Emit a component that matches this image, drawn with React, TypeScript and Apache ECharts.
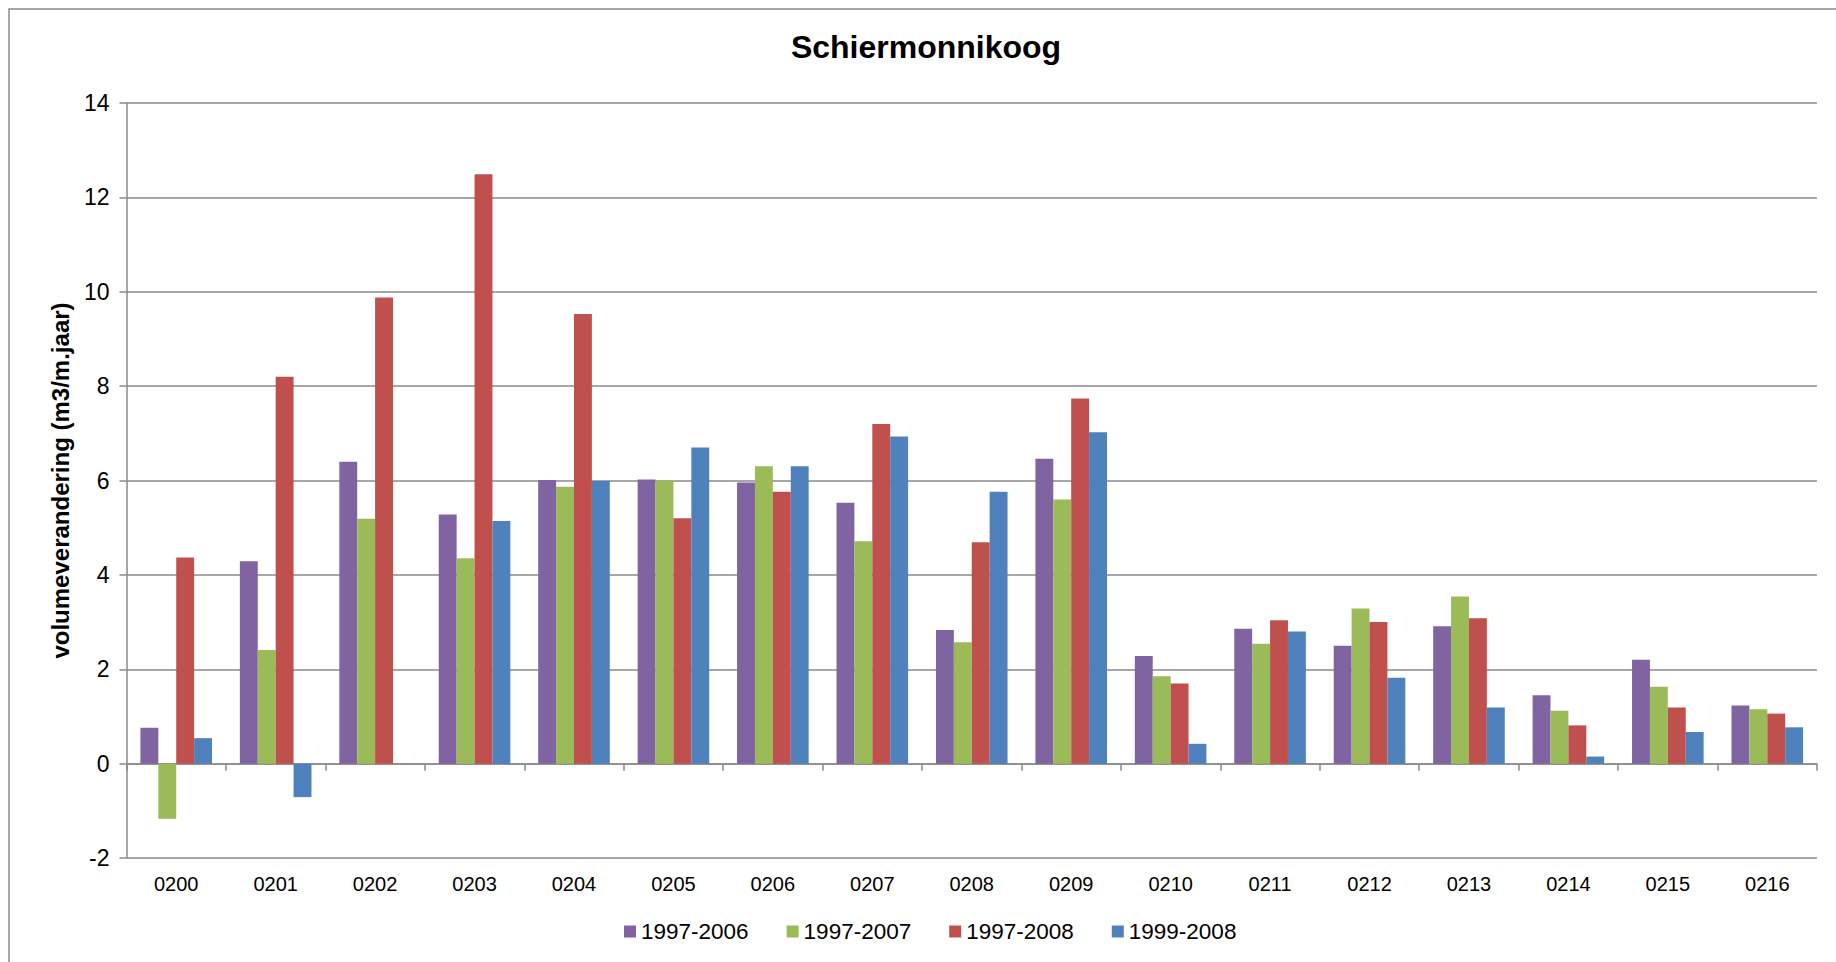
import React, { useEffect, useRef } from "react";
import * as echarts from "echarts";

const categories = ["0200", "0201", "0202", "0203", "0204", "0205", "0206", "0207", "0208", "0209", "0210", "0211", "0212", "0213", "0214", "0215", "0216"];
const seriesNames = ["1997-2006", "1997-2007", "1997-2008", "1999-2008"];
const s1997_2006 = [0.76, 4.29, 6.4, 5.28, 6.01, 6.02, 5.96, 5.53, 2.83, 6.46, 2.28, 2.86, 2.5, 2.91, 1.45, 2.2, 1.23];
const s1997_2007 = [-1.17, 2.41, 5.19, 4.35, 5.87, 6.0, 6.3, 4.71, 2.57, 5.6, 1.85, 2.54, 3.29, 3.54, 1.12, 1.63, 1.15];
const s1997_2008 = [4.37, 8.2, 9.88, 12.49, 9.53, 5.2, 5.76, 7.2, 4.69, 7.74, 1.7, 3.04, 3.0, 3.08, 0.81, 1.19, 1.06];
const s1999_2008 = [0.54, -0.71, null, 5.14, 5.99, 6.7, 6.3, 6.93, 5.76, 7.02, 0.42, 2.8, 1.82, 1.19, 0.15, 0.67, 0.77];
const colors = ["#8064A2", "#9BBB59", "#C0504D", "#4F81BD"];
const yMin = -2;
const yMax = 14;
const yStep = 2;

const FONT = '"Liberation Sans", Arial, sans-serif';
const GRAY = "#8a8a8a";

export default function App() {
  const ref = useRef<HTMLDivElement>(null);
  useEffect(() => {
    if (!ref.current) return;
    const chart = echarts.init(ref.current, null, { renderer: "svg" });
    const values = [s1997_2006, s1997_2007, s1997_2008, s1999_2008];
    chart.setOption({
      animation: false,
      backgroundColor: "#ffffff",
      textStyle: { fontFamily: FONT },
      title: {
        text: "Schiermonnikoog",
        left: 921,
        textAlign: "center",
        top: 26,
        textStyle: { fontFamily: FONT, fontSize: 32, fontWeight: "bold", color: "#000" },
      },
      legend: {
        data: seriesNames,
        left: 619,
        top: 915,
        icon: "rect",
        itemWidth: 12,
        itemHeight: 12,
        itemGap: 38,
        textStyle: { fontFamily: FONT, fontSize: 22.5, color: "#000" },
      },
      graphic: [
        {
          type: "rect",
          shape: { x: 9, y: 9, width: 2000, height: 2000 },
          style: { fill: "none", stroke: GRAY, lineWidth: 1.5 },
          silent: true,
        },
      ],
      grid: { left: 126.5, right: 19, top: 103, bottom: 104, containLabel: false },
      xAxis: [
        {
          type: "category",
          data: categories,
          position: "bottom",
          axisLine: { show: false, onZero: false },
          axisTick: { show: false },
          axisLabel: { fontFamily: FONT, fontSize: 20, color: "#000", margin: 16 },
          splitLine: { show: false },
        },
        {
          type: "category",
          data: categories,
          position: "bottom",
          axisLine: { show: true, onZero: true, lineStyle: { color: GRAY, width: 1.5 } },
          axisTick: { show: true, length: 7, lineStyle: { color: GRAY, width: 1.5 } },
          axisLabel: { show: false },
          splitLine: { show: false },
        },
      ],
      yAxis: {
        type: "value",
        min: yMin,
        max: yMax,
        interval: yStep,
        name: "volumeverandering (m3/m.jaar)",
        nameLocation: "middle",
        nameRotate: 90,
        nameGap: 54,
        nameTextStyle: { fontFamily: FONT, fontSize: 24, fontWeight: "bold", color: "#000" },
        axisLine: { show: true, lineStyle: { color: GRAY, width: 1.5 } },
        axisTick: { show: true, length: 7, lineStyle: { color: GRAY, width: 1.5 } },
        axisLabel: { fontFamily: FONT, fontSize: 23, color: "#000", margin: 17 },
        splitLine: { show: true, lineStyle: { color: GRAY, width: 1.5 } },
      },
      series: seriesNames.map((name, i) => ({
        name,
        type: "bar",
        xAxisIndex: 0,
        data: values[i],
        itemStyle: { color: colors[i] },
        barGap: "0%",
        barCategoryGap: "28%",
      })),
    });
    return () => chart.dispose();
  }, []);
  return (
    <div
      ref={ref}
      style={{ position: "fixed", left: 0, top: 0, width: 1836, height: 962, background: "#fff" }}
    />
  );
}
